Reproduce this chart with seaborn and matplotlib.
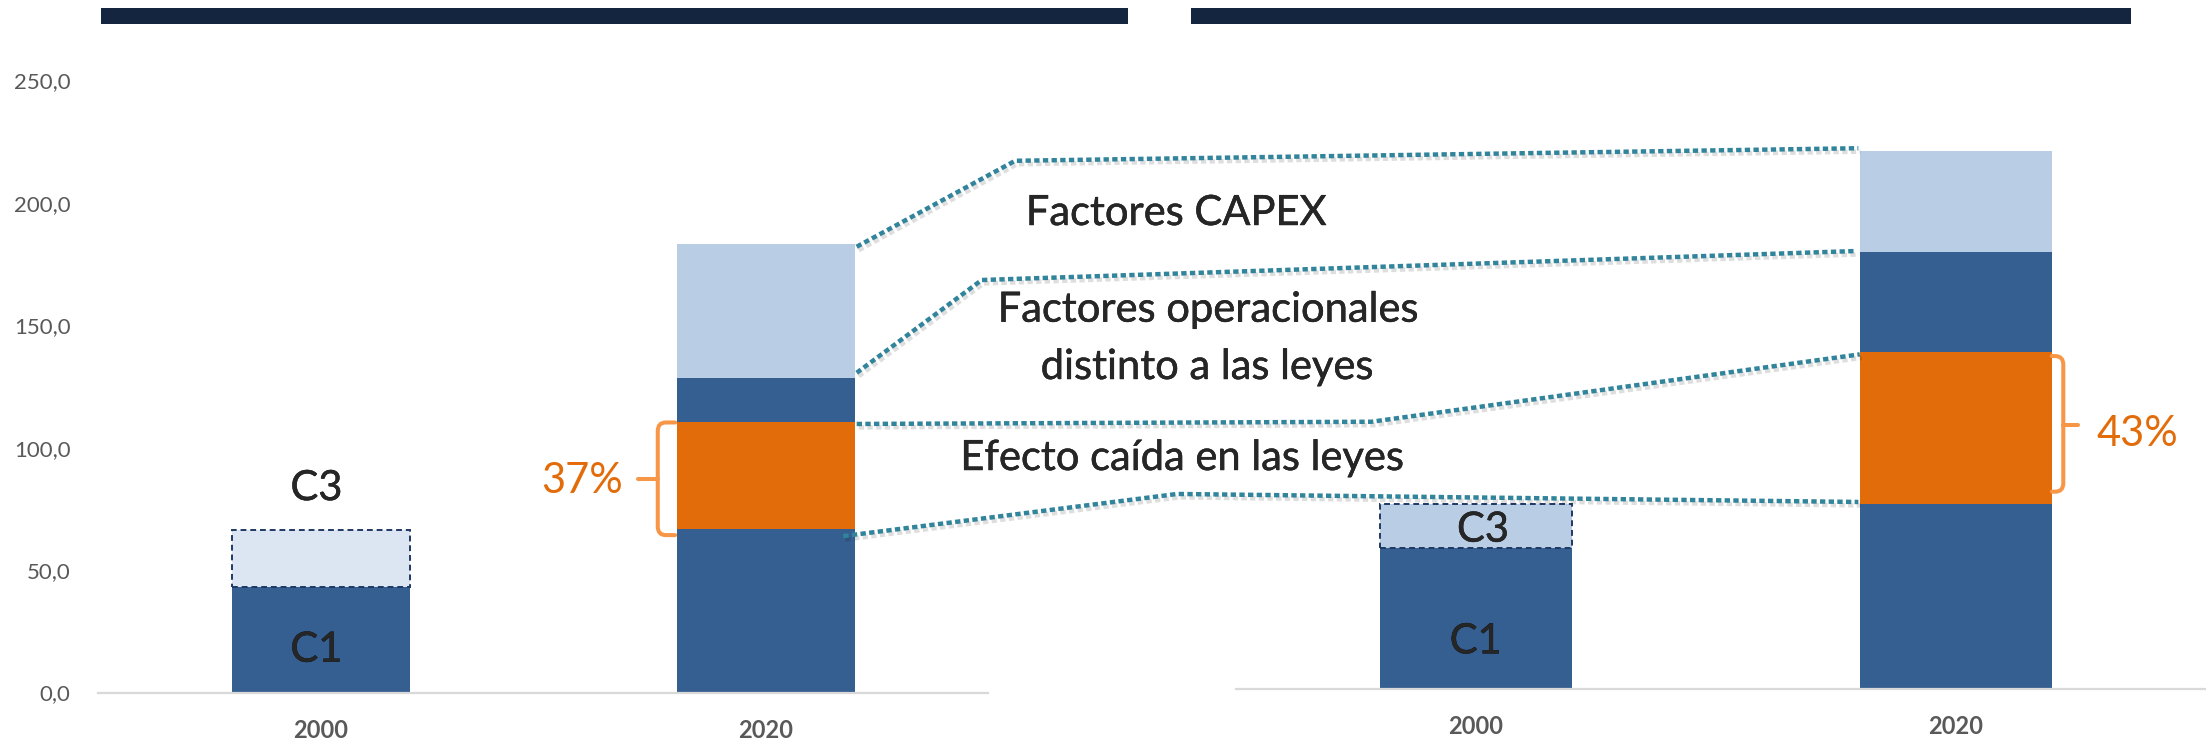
import numpy as np
import matplotlib
matplotlib.use("Agg")
import matplotlib.pyplot as plt
import seaborn as sns
from matplotlib.path import Path
from matplotlib.patches import PathPatch, Rectangle
from matplotlib.lines import Line2D
import matplotlib.patheffects as pe

# ---------------- data ----------------
years = ["2000", "2020"]
left_2000 = [43.2, 23.3]                 # C1, C3
left_2020 = [66.7, 43.6, 18.2, 54.7]     # base, efecto leyes, operacionales, CAPEX
right_2000 = [57.7, 17.8]                # C1, C3
right_2020 = [75.5, 62.2, 40.8, 41.3]
labels_2000 = ["C1", "C3"]
yticks = [0, 50, 100, 150, 200, 250]
ytick_labels = ["0,0", "50,0", "100,0", "150,0", "200,0", "250,0"]
pct_labels = ["37%", "43%"]
factor_labels = ["Factores CAPEX", "Factores operacionales",
                 "distinto a las leyes", "Efecto caída en las leyes"]

# ---------------- style ----------------
DARK = "#365F91"
LIGHT = "#B9CDE5"
PALE = "#DCE6F2"
ORANGE = "#E36C0A"
BRACE = "#F79646"
TEAL = "#31849B"
NAVY = "#14263F"
BORDER = "#1F3864"
GREY = "#595959"

sns.set_style("white")
plt.rcParams["font.family"] = ["Lato", "DejaVu Sans"]

W, H = 2206, 741
fig = plt.figure(figsize=(W / 100, H / 100), dpi=100)

axL = fig.add_axes([98.4 / W, 1 - 692.5 / H, 890 / W, 612 / H])
axR = fig.add_axes([1235.8 / W, 1 - 689 / H, 970.2 / W, 612 / H])

seg_colors_2020 = [DARK, ORANGE, DARK, LIGHT]
bold_fx = [pe.withStroke(linewidth=0.3, foreground="black")]


def draw_panel(ax, vals_2000, vals_2020, c3_color):
    b2000 = np.concatenate([[0], np.cumsum(vals_2000)[:-1]])
    for i, (v, b) in enumerate(zip(vals_2000, b2000)):
        kw = dict(linewidth=0)
        if i == 1:
            kw = dict(edgecolor=BORDER, linestyle=(0, (3, 2)), linewidth=1.4)
        sns.barplot(x=[years[0]], y=[v], order=years, bottom=b,
                    color=[DARK, c3_color][i], saturation=1, width=0.4,
                    errorbar=None, ax=ax, **kw)
    b2020 = np.concatenate([[0], np.cumsum(vals_2020)[:-1]])
    for v, b, c in zip(vals_2020, b2020, seg_colors_2020):
        sns.barplot(x=[years[1]], y=[v], order=years, bottom=b, color=c,
                    saturation=1, width=0.4, errorbar=None, ax=ax, linewidth=0)
    ax.set_ylim(0, 250)
    ax.set_xlabel("")
    ax.set_ylabel("")
    for s in ["top", "right", "left"]:
        ax.spines[s].set_visible(False)
    ax.spines["bottom"].set_color("#D9D9D9")
    ax.spines["bottom"].set_linewidth(1.6)
    ax.tick_params(axis="both", length=0)
    for lab in ax.get_xticklabels():
        lab.set_fontweight("bold")
        lab.set_fontsize(17)
        lab.set_color(GREY)


draw_panel(axL, left_2000, left_2020, PALE)
draw_panel(axR, right_2000, right_2020, LIGHT)

axL.set_xlim(-0.5, 1.5)
axR.set_xlim(-0.5, 1.5213)
axL.set_yticks(yticks, labels=ytick_labels)
axL.tick_params(axis="y", pad=20, labelsize=16, labelcolor=GREY)
axR.set_yticks([])
axL.tick_params(axis="x", pad=19)
axR.tick_params(axis="x", pad=19)

# C1 / C3 labels inside / above the 2000 bars
tkw = dict(ha="center", va="baseline", fontsize=30, path_effects=bold_fx)
axL.text(-0.01, 12.6, labels_2000[0], **tkw)
axL.text(-0.01, 78.6, labels_2000[1], **tkw)
axR.text(0.0, 14.6, labels_2000[0], **tkw)
axR.text(0.015, 60.2, labels_2000[1], **tkw)

# ---------------- connectors ----------------
cumL = np.cumsum(left_2020)
cumR = np.cumsum(right_2020)
conn_idx = [3, 2, 1, 0]
bends = [(1.560, 217.2), (1.485, 168.5), (2.361, 110.6), (1.924, 81.1)]
start_off = [(0.004, -1.1), (0.004, 2.1), (0.004, -0.6), (-0.026, -2.8)]
end_off = [(-0.003, 1.1), (-0.01, 0.4), (0.0, -1.0), (-0.003, 0.9)]

inv = fig.transFigure.inverted()


def to_fig(ax, x, y):
    return inv.transform(ax.transData.transform((x, y)))


for k, bend, so, eo in zip(conn_idx, bends, start_off, end_off):
    p0 = to_fig(axL, 1.2 + so[0], cumL[k] + so[1])
    p1 = to_fig(axL, bend[0], bend[1])
    p2 = to_fig(axR, 0.8 + eo[0], cumR[k] + eo[1])
    xs = [p0[0], p1[0], p2[0]]
    ys = [p0[1], p1[1], p2[1]]
    ln = Line2D(xs, ys, transform=fig.transFigure, color=TEAL, lw=3.2,
                linestyle=(0, (1.2, 0.75)), dash_capstyle="butt",
                path_effects=[pe.SimpleLineShadow(offset=(1.5, -2.5),
                                                  shadow_color="k", alpha=0.13),
                              pe.Normal()])
    fig.add_artist(ln)

# factor labels
fkw = dict(ha="center", va="baseline", fontsize=30, path_effects=bold_fx)
fig.text(1176 / W, 1 - 225 / H, factor_labels[0], **fkw)
fig.text(1208 / W, 1 - 321.7 / H, factor_labels[1], **fkw)
fig.text(1207 / W, 1 - 379 / H, factor_labels[2], **fkw)
fig.text(1182 / W, 1 - 470 / H, factor_labels[3], **fkw)


# ---------------- braces ----------------
def brace(ax, xv, xh, y0, y1, xn, yn, rx, ry):
    s = np.sign(xh - xv)
    verts = [(xh, y1), (xv + s * rx, y1), (xv, y1), (xv, y1 - ry),
             (xv, y0 + ry), (xv, y0), (xv + s * rx, y0), (xh, y0)]
    codes = [Path.MOVETO, Path.LINETO, Path.CURVE3, Path.CURVE3,
             Path.LINETO, Path.CURVE3, Path.CURVE3, Path.LINETO]
    ax.add_patch(PathPatch(Path(verts, codes), facecolor="none", edgecolor=BRACE,
                           lw=2.9, clip_on=False, capstyle="round", joinstyle="round"))
    ax.add_line(Line2D([xv, xn], [yn, yn], color=BRACE, lw=2.9,
                       solid_capstyle="round", clip_on=False))


brace(axL, 0.757, 0.796, cumL[0] - 2.4, cumL[1], 0.713, 87.2, 0.018, 3.5)
brace(axR, 1.224, 1.2, cumR[0] + 5.1, cumR[1] - 1.7, 1.255, 107.8, 0.017, 3.5)

axL.text(0.678, 81.6, pct_labels[0], ha="right", va="baseline", fontsize=30,
         color=ORANGE)
axR.text(1.294, 99.3, pct_labels[1], ha="left", va="baseline", fontsize=30,
         color=ORANGE)

# top navy bars
fig.add_artist(Rectangle((101 / W, 1 - 23.6 / H), (1128 - 101) / W, 15.6 / H,
                         transform=fig.transFigure, color=NAVY, lw=0))
fig.add_artist(Rectangle((1191 / W, 1 - 23.6 / H), (2130.6 - 1191) / W, 15.6 / H,
                         transform=fig.transFigure, color=NAVY, lw=0))

fig.savefig("out.png", dpi=100)
